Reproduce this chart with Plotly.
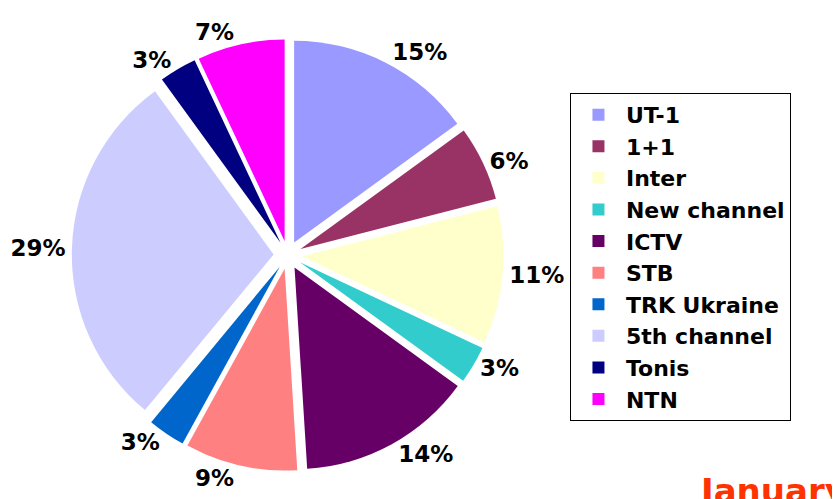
import plotly.graph_objects as go

channels = ["UT-1", "1+1", "Inter", "New channel", "ICTV", "STB",
            "TRK Ukraine", "5th channel", "Tonis", "NTN"]
shares = [15, 6, 11, 3, 14, 9, 3, 29, 3, 7]
colors = ["#9999FF", "#993366", "#FFFFCC", "#33CCCC", "#660066", "#FF8080",
          "#0066CC", "#CCCCFF", "#000080", "#FF00FF"]

FONT = "DejaVu Sans"

fig = go.Figure(go.Pie(
    labels=channels,
    values=shares,
    sort=False,
    direction="clockwise",
    rotation=0,
    pull=0.07,
    marker=dict(colors=colors, line=dict(width=0)),
    textposition="outside",
    texttemplate="<b>%{value}%</b>",
    textfont=dict(family=FONT, size=23, color="black"),
    hoverinfo="label+percent",
    automargin=False,
    domain=dict(x=[0.076, 0.59], y=[0.072, 0.938]),
))

fig.update_layout(
    width=840, height=499,
    margin=dict(l=0, r=0, t=0, b=0, autoexpand=False),
    paper_bgcolor="white",
    plot_bgcolor="white",
    showlegend=True,
    legend=dict(
        x=0.669, y=0.83, xanchor="left", yanchor="top",
        bordercolor="black", borderwidth=1,
        font=dict(family=FONT, size=22, color="black", weight="bold"),
        itemwidth=45,
        bgcolor="white",
    ),
    annotations=[dict(
        text="<b>January</b>", xref="paper", yref="paper",
        x=0.82, y=0.076, xanchor="left", yanchor="top",
        showarrow=False,
        font=dict(family=FONT, size=34, color="#FF3300"),
    )],
)

fig.write_html("out.html")
